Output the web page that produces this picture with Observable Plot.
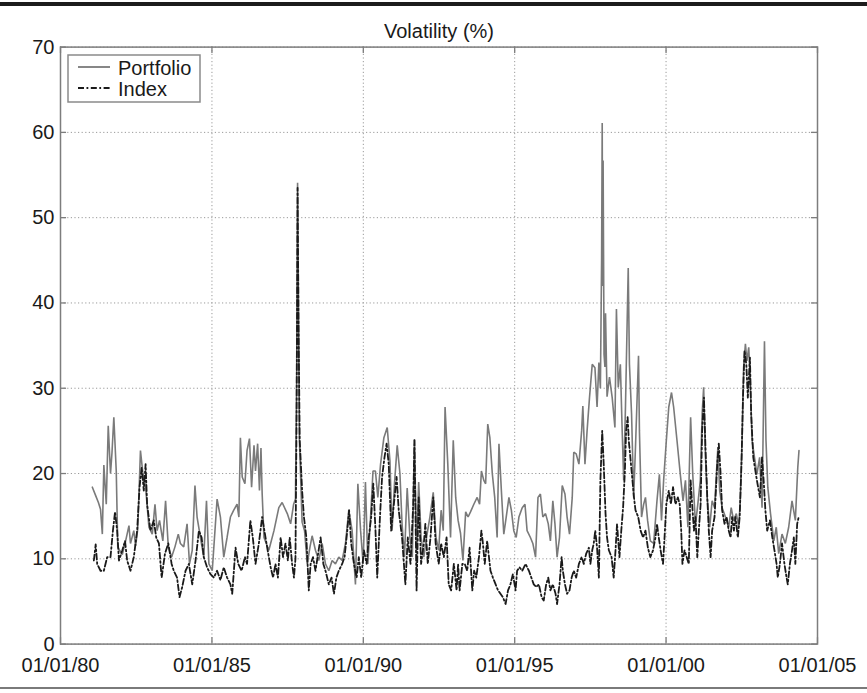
<!DOCTYPE html>
<html><head><meta charset="utf-8">
<script src="https://cdn.jsdelivr.net/npm/d3@7"></script>
<script src="https://cdn.jsdelivr.net/npm/@observablehq/plot@0.6"></script>
<style>
html,body{margin:0;padding:0;background:#fff;}
#wrap{position:relative;width:867px;height:693px;overflow:hidden;font-family:"Liberation Sans",Arial,Helvetica,sans-serif;}
#chart{position:absolute;left:0;top:0;}
#topRule{position:absolute;left:0;top:2px;width:867px;height:4px;background:#1c1c1c;}
#bottomRule{position:absolute;left:0;top:687px;width:867px;height:2px;background:#7a7a7a;}
#legend{position:absolute;left:66px;top:53px;}
</style></head>
<body>
<div id="wrap">
<div id="chart"></div>
<div id="topRule"></div>
<div id="bottomRule"></div>
</div>
<script>
// ---------- data (decimal years, volatility %) ----------
const portfolioYears = [1981.05,1981.15,1981.25,1981.32,1981.38,1981.43,1981.51,1981.575,1981.65,1981.70,1981.76,1981.84,1981.89,1981.95,1982.04,1982.15,1982.26,1982.31,1982.42,1982.48,1982.55,1982.64,1982.72,1982.81,1982.92,1983.03,1983.12,1983.19,1983.27,1983.38,1983.47,1983.56,1983.67,1983.78,1983.89,1983.96,1984.07,1984.18,1984.26,1984.35,1984.44,1984.51,1984.62,1984.73,1984.82,1984.90,1985.01,1985.17,1985.28,1985.39,1985.50,1985.61,1985.72,1985.83,1985.89,1985.94,1986.00,1986.09,1986.16,1986.24,1986.31,1986.39,1986.44,1986.51,1986.57,1986.62,1986.66,1986.72,1986.88,1987.05,1987.21,1987.32,1987.49,1987.60,1987.70,1987.76,1987.80,1987.83,1987.86,1987.89,1987.98,1988.06,1988.15,1988.24,1988.31,1988.42,1988.53,1988.64,1988.75,1988.86,1988.97,1989.08,1989.19,1989.30,1989.41,1989.52,1989.63,1989.74,1989.82,1989.91,1989.995,1990.07,1990.15,1990.24,1990.32,1990.40,1990.48,1990.57,1990.68,1990.79,1990.88,1990.95,1991.03,1991.12,1991.21,1991.28,1991.36,1991.45,1991.54,1991.62,1991.69,1991.76,1991.83,1991.91,1992.00,1992.09,1992.20,1992.31,1992.40,1992.49,1992.57,1992.64,1992.70,1992.79,1992.88,1992.97,1993.05,1993.13,1993.21,1993.29,1993.38,1993.46,1993.54,1993.65,1993.76,1993.84,1993.90,1993.98,1994.04,1994.11,1994.18,1994.26,1994.34,1994.42,1994.48,1994.56,1994.64,1994.72,1994.81,1994.89,1994.97,1995.05,1995.14,1995.25,1995.34,1995.41,1995.52,1995.60,1995.69,1995.77,1995.85,1995.93,1996.02,1996.11,1996.18,1996.26,1996.33,1996.40,1996.48,1996.57,1996.66,1996.73,1996.81,1996.90,1996.95,1997.03,1997.12,1997.21,1997.25,1997.32,1997.39,1997.47,1997.56,1997.65,1997.72,1997.78,1997.83,1997.87,1997.89,1997.905,1997.92,1997.95,1997.98,1998.00,1998.05,1998.13,1998.22,1998.31,1998.36,1998.42,1998.49,1998.55,1998.60,1998.66,1998.75,1998.79,1998.86,1998.93,1998.99,1999.09,1999.12,1999.19,1999.26,1999.32,1999.39,1999.48,1999.59,1999.70,1999.78,1999.85,1999.92,2000.01,2000.09,2000.18,2000.25,2000.36,2000.47,2000.56,2000.64,2000.72,2000.81,2000.88,2000.97,2001.05,2001.13,2001.19,2001.24,2001.30,2001.36,2001.44,2001.52,2001.60,2001.66,2001.71,2001.77,2001.85,2001.96,2002.07,2002.15,2002.23,2002.32,2002.40,2002.45,2002.51,2002.56,2002.62,2002.67,2002.73,2002.78,2002.84,2002.92,2003.00,2003.09,2003.17,2003.25,2003.30,2003.36,2003.45,2003.56,2003.64,2003.72,2003.83,2003.94,2004.05,2004.16,2004.27,2004.35,2004.39];
const portfolioVols = [18.4,17.5,16.6,15.8,12.9,21.0,16.4,25.6,20.0,22.5,26.6,20.3,11.4,11.0,10.5,12.1,13.9,11.8,13.3,11.5,13.5,22.7,20.0,18.4,13.7,12.9,16.4,13.3,14.5,12.1,16.8,11.4,10.2,11.4,12.9,11.8,11.4,14.1,9.4,11.0,18.6,14.9,12.5,10.2,16.8,9.4,8.6,17.0,14.9,10.2,12.5,14.9,15.7,16.4,14.9,24.2,19.6,18.8,22.7,24.1,18.4,23.3,20.3,23.5,18.0,23.0,17.6,12.5,11.0,13.3,16.0,16.6,15.3,14.1,16.4,17.0,32.0,54.1,40.0,24.0,14.3,13.3,9.4,11.4,12.7,11.0,9.8,11.8,9.4,8.6,9.8,9.4,10.2,9.8,11.8,15.7,13.3,7.0,18.8,13.3,9.4,19.0,9.4,14.9,20.3,20.3,17.2,21.1,24.2,25.4,21.5,13.3,18.8,23.3,20.0,14.1,10.2,18.3,12.5,10.2,24.0,11.0,19.0,12.5,10.2,12.5,14.9,17.8,12.5,11.0,15.7,13.3,27.8,21.1,12.5,23.9,17.2,14.5,13.0,9.8,15.5,14.9,15.5,16.4,17.2,16.4,20.3,19.2,18.8,25.8,24.2,20.0,17.2,12.5,23.5,18.0,12.9,14.9,17.2,15.7,13.3,12.5,14.9,16.0,16.4,13.3,12.5,11.8,10.2,17.2,17.6,14.9,15.3,14.1,12.1,16.8,14.1,10.2,12.5,18.6,17.6,14.9,12.9,17.2,22.5,22.3,21.1,25.0,27.9,21.1,25.0,28.9,32.8,32.4,27.8,33.0,30.0,45.0,61.1,42.0,56.7,34.0,32.5,38.8,29.0,31.3,28.9,25.4,39.3,30.1,32.8,25.0,19.2,28.0,44.1,32.8,27.0,17.2,23.1,33.8,25.0,14.9,16.4,17.2,14.5,12.1,11.8,16.8,19.9,14.5,19.2,23.9,27.8,29.5,27.8,23.9,19.9,16.8,19.2,13.7,26.6,19.9,14.0,16.5,19.2,27.0,30.1,21.9,17.0,13.7,16.8,16.0,19.9,23.1,18.0,16.0,14.9,13.7,16.0,14.5,15.3,13.7,16.8,23.9,32.4,35.2,33.2,34.8,30.9,23.9,21.9,19.9,21.9,16.0,35.5,23.9,18.4,15.3,12.1,13.7,10.6,12.9,11.8,13.7,16.8,14.5,20.7,22.7];

const indexYears = [1981.10,1981.16,1981.21,1981.32,1981.43,1981.54,1981.65,1981.73,1981.80,1981.87,1981.93,1982.04,1982.13,1982.20,1982.31,1982.42,1982.53,1982.61,1982.68,1982.75,1982.81,1982.86,1982.97,1983.08,1983.16,1983.25,1983.34,1983.45,1983.56,1983.67,1983.74,1983.85,1983.93,1984.02,1984.13,1984.24,1984.35,1984.46,1984.57,1984.66,1984.73,1984.84,1984.95,1985.06,1985.17,1985.28,1985.39,1985.50,1985.61,1985.67,1985.78,1985.87,1985.98,1986.09,1986.16,1986.27,1986.35,1986.44,1986.55,1986.66,1986.77,1986.88,1986.94,1987.02,1987.10,1987.18,1987.27,1987.35,1987.43,1987.51,1987.57,1987.65,1987.71,1987.76,1987.80,1987.83,1987.86,1987.90,1987.98,1988.04,1988.12,1988.20,1988.26,1988.34,1988.42,1988.59,1988.68,1988.75,1988.86,1988.95,1989.03,1989.11,1989.19,1989.30,1989.38,1989.47,1989.53,1989.60,1989.69,1989.78,1989.85,1989.93,1990.02,1990.11,1990.18,1990.26,1990.33,1990.40,1990.46,1990.55,1990.62,1990.70,1990.77,1990.84,1990.92,1991.01,1991.10,1991.17,1991.28,1991.39,1991.47,1991.56,1991.65,1991.69,1991.76,1991.83,1991.91,1992.00,1992.05,1992.13,1992.22,1992.31,1992.39,1992.49,1992.57,1992.66,1992.75,1992.82,1992.90,1992.99,1993.08,1993.13,1993.18,1993.27,1993.35,1993.43,1993.51,1993.60,1993.66,1993.73,1993.82,1993.90,1993.95,1994.01,1994.09,1994.15,1994.20,1994.28,1994.37,1994.45,1994.53,1994.61,1994.70,1994.78,1994.86,1994.94,1995.03,1995.08,1995.16,1995.25,1995.36,1995.47,1995.55,1995.63,1995.71,1995.80,1995.89,1995.96,1996.04,1996.11,1996.18,1996.26,1996.35,1996.40,1996.48,1996.55,1996.59,1996.66,1996.73,1996.81,1996.88,1996.95,1997.03,1997.12,1997.21,1997.28,1997.36,1997.45,1997.50,1997.56,1997.61,1997.66,1997.72,1997.78,1997.83,1997.89,1997.94,1998.00,1998.05,1998.11,1998.20,1998.27,1998.33,1998.38,1998.46,1998.52,1998.58,1998.64,1998.68,1998.73,1998.77,1998.82,1998.88,1998.94,1998.99,1999.08,1999.16,1999.24,1999.32,1999.40,1999.48,1999.57,1999.65,1999.70,1999.76,1999.82,1999.90,1999.95,2000.01,2000.09,2000.16,2000.23,2000.31,2000.39,2000.45,2000.50,2000.54,2000.61,2000.68,2000.75,2000.81,2000.86,2000.92,2000.97,2001.03,2001.08,2001.14,2001.19,2001.25,2001.30,2001.36,2001.41,2001.47,2001.52,2001.60,2001.69,2001.74,2001.80,2001.85,2001.93,2002.00,2002.07,2002.13,2002.18,2002.24,2002.29,2002.37,2002.43,2002.49,2002.54,2002.59,2002.65,2002.70,2002.77,2002.81,2002.88,2002.95,2003.02,2003.10,2003.17,2003.23,2003.28,2003.34,2003.43,2003.51,2003.58,2003.65,2003.69,2003.76,2003.83,2003.91,2003.98,2004.02,2004.09,2004.16,2004.22,2004.27,2004.33,2004.38];
const indexVols = [9.8,11.7,9.4,8.6,8.6,10.2,10.2,13.3,15.5,13.3,9.8,11.0,12.1,9.8,8.6,10.2,13.3,18.4,20.7,18.0,21.1,16.4,13.3,14.5,12.5,11.8,7.8,10.6,11.8,9.4,8.6,7.8,5.5,6.7,8.6,9.4,7.0,9.8,13.3,12.5,10.2,9.0,8.2,7.8,8.6,7.5,9.0,7.8,7.0,5.9,11.3,9.4,8.6,10.2,9.4,14.5,12.5,9.4,11.8,14.9,12.5,10.2,9.0,7.8,9.4,7.8,12.5,10.2,11.8,9.8,12.5,9.4,7.8,10.0,28.0,53.5,38.0,24.0,18.0,14.9,12.5,6.3,9.4,10.2,8.6,12.5,9.4,8.6,7.0,7.8,5.9,7.8,8.6,9.4,10.2,13.3,15.7,11.8,9.4,7.8,10.2,7.8,11.0,9.4,12.5,14.9,18.8,13.5,7.8,14.9,19.6,21.9,23.5,21.1,13.3,16.4,19.6,15.7,12.5,7.0,12.5,9.4,16.4,23.9,6.3,17.2,9.4,11.8,14.1,9.4,12.5,17.2,11.8,9.4,11.8,10.2,12.5,7.0,6.3,9.4,6.3,9.4,6.3,9.4,9.4,8.6,11.3,6.3,8.6,7.8,10.2,13.3,11.8,9.4,12.1,10.2,8.6,7.8,7.0,6.3,5.9,5.5,4.7,6.3,7.0,8.2,6.3,8.6,9.0,8.6,9.4,8.6,7.8,7.0,6.7,7.0,5.5,5.1,7.0,7.8,6.3,7.0,5.9,4.7,7.0,10.2,8.6,7.0,5.9,6.3,7.8,8.6,7.8,9.4,10.2,9.4,10.6,11.3,9.4,11.0,11.8,13.3,11.3,7.8,19.2,25.0,21.1,15.3,12.5,11.0,10.2,7.8,11.0,14.1,10.2,13.3,16.0,20.3,25.0,26.6,23.8,21.9,19.6,17.2,15.7,14.9,13.3,12.5,13.3,11.3,10.2,11.0,12.5,14.1,12.5,11.0,9.4,12.5,16.4,18.0,16.4,18.4,16.4,17.2,16.4,13.3,9.4,11.0,10.2,9.4,19.2,16.4,13.3,14.9,10.2,13.3,16.4,25.0,28.9,23.1,17.2,13.3,10.2,13.3,14.9,21.1,23.5,20.0,15.7,14.1,14.9,13.3,12.5,14.9,13.3,14.9,12.5,14.9,21.1,28.9,34.4,32.8,28.9,33.6,27.0,21.9,20.3,18.8,17.2,21.9,18.8,15.7,13.3,14.5,12.5,11.0,9.4,7.8,9.4,11.8,9.4,7.8,7.0,9.4,11.0,12.5,9.4,14.1,14.9];

const seriesNames = ["Portfolio", "Index"];
const xTickYears = [1980, 1985, 1990, 1995, 2000, 2005];
const xTickLabels = ["01/01/80", "01/01/85", "01/01/90", "01/01/95", "01/01/00", "01/01/05"];
const yTicks = [0, 10, 20, 30, 40, 50, 60, 70];
const chartTitle = "Volatility (%)";

// ---------- helpers ----------
function yearToDate(y) {
  const yr = Math.floor(y);
  const a = Date.UTC(yr, 0, 1), b = Date.UTC(yr + 1, 0, 1);
  return new Date(a + (y - yr) * (b - a));
}
const portfolio = portfolioYears.map((y, i) => ({date: yearToDate(y), vol: portfolioVols[i]}));
const index = indexYears.map((y, i) => ({date: yearToDate(y), vol: indexVols[i]}));
const xTicks = xTickYears.map(y => yearToDate(y));
const labelOf = new Map(xTicks.map((d, i) => [+d, xTickLabels[i]]));
const xDomain = [xTicks[0], xTicks[xTicks.length - 1]];
const tickLenX = 0.2; // years (inward tick length on y axis)
const leftStart = xDomain[0], leftEnd = yearToDate(xTickYears[0] + tickLenX);
const rightStart = yearToDate(xTickYears[xTickYears.length - 1] - tickLenX), rightEnd = xDomain[1];

const font = '"Liberation Sans", Arial, Helvetica, sans-serif';
const axisColor = "#7d7d7d";

const chart = Plot.plot({
  width: 867,
  height: 693,
  marginLeft: 60,
  marginRight: 50,
  marginTop: 46.6,
  marginBottom: 49.4,
  style: {fontFamily: font, fontSize: "20px", color: "#1a1a1a", background: "transparent", overflow: "visible"},
  x: {type: "utc", domain: xDomain, label: null},
  y: {domain: [0, 70], label: null},
  marks: [
    Plot.gridX(xTicks, {stroke: "#9a9a9a", strokeOpacity: 1, strokeDasharray: "1.2,2.4", strokeWidth: 1}),
    Plot.gridY(yTicks, {stroke: "#9a9a9a", strokeOpacity: 1, strokeDasharray: "1.2,2.4", strokeWidth: 1}),
    // inward ticks
    Plot.ruleX(xTicks, {x: d => d, y1: 0, y2: 0.75, stroke: axisColor, strokeWidth: 1.3}),
    Plot.ruleX(xTicks, {x: d => d, y1: 70, y2: 69.25, stroke: axisColor, strokeWidth: 1.3}),
    Plot.ruleY(yTicks, {y: d => d, x1: leftStart, x2: leftEnd, stroke: axisColor, strokeWidth: 1.3}),
    Plot.ruleY(yTicks, {y: d => d, x1: rightStart, x2: rightEnd, stroke: axisColor, strokeWidth: 1.3}),
    Plot.line(portfolio, {x: "date", y: "vol", stroke: "#7a7a7a", strokeWidth: 1.6, strokeLinejoin: "miter"}),
    Plot.line(index, {x: "date", y: "vol", stroke: "#1a1a1a", strokeWidth: 1.8, strokeDasharray: "6,2.5,1.8,2.5"}),
    Plot.frame({stroke: axisColor, strokeWidth: 1.5}),
    Plot.axisX(xTicks, {label: null, tickSize: 0, tickPadding: 14, tickFormat: d => labelOf.get(+d), fontSize: 20, fill: "#1a1a1a"}),
    Plot.axisY(yTicks, {label: null, tickSize: 0, tickPadding: 6, fontSize: 20, fill: "#1a1a1a"}),
    Plot.text([chartTitle], {frameAnchor: "top", dy: -9, lineAnchor: "bottom", fontSize: 20, fill: "#1a1a1a", text: d => d})
  ]
});
document.getElementById("chart").appendChild(chart);

// ---------- legend ----------
const ns = "http://www.w3.org/2000/svg";
const leg = document.createElementNS(ns, "svg");
leg.setAttribute("id", "legend");
leg.setAttribute("width", "140");
leg.setAttribute("height", "54");
leg.innerHTML = `
  <rect x="2" y="2" width="132" height="47" fill="#fff" stroke="#8a8a8a" stroke-width="1.5"/>
  <line x1="12" x2="44" y1="14" y2="14" stroke="#7a7a7a" stroke-width="1.8"/>
  <line x1="12" x2="44" y1="35" y2="35" stroke="#1a1a1a" stroke-width="1.8" stroke-dasharray="6,2.5,1.8,2.5"/>
  <text x="52" y="22" font-family='${font}' font-size="20" fill="#1a1a1a">${seriesNames[0]}</text>
  <text x="52" y="43" font-family='${font}' font-size="20" fill="#1a1a1a">${seriesNames[1]}</text>`;
document.getElementById("wrap").appendChild(leg);
</script>
</body></html>
